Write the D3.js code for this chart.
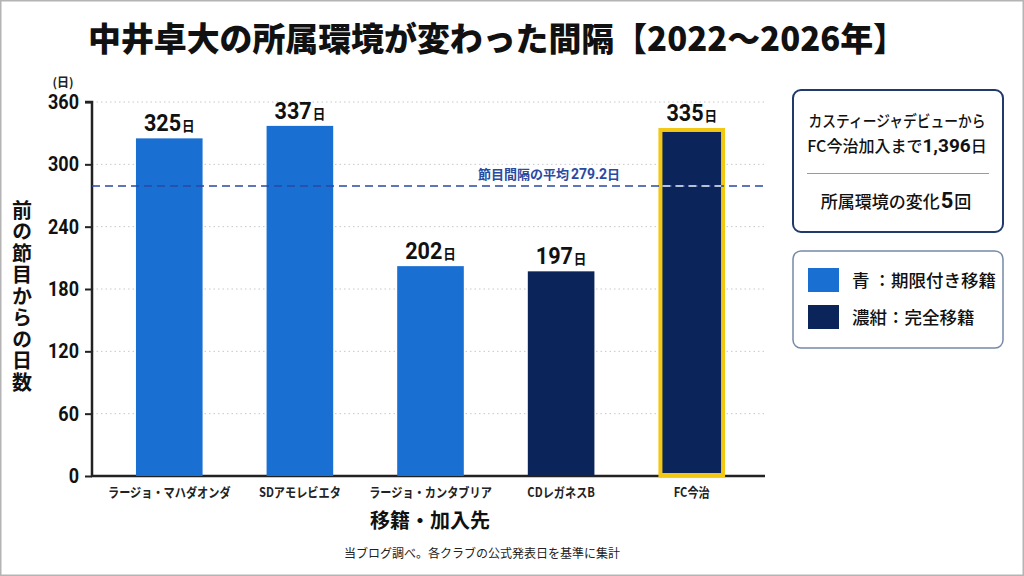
<!DOCTYPE html>
<html><head><meta charset="utf-8">
<script src="https://cdn.jsdelivr.net/npm/d3@7"></script>
<style>
html,body{margin:0;padding:0;background:#fff;}
svg{display:block;}
text{font-family:"Noto Sans CJK JP","Noto Sans",sans-serif;}
</style></head><body>
<svg id="c" width="1024" height="576"></svg>
<script>
const categories = ["ラージョ・マハダオンダ","SDアモレビエタ","ラージョ・カンタブリア","CDレガネスB","FC今治"];
const days = [325, 337, 202, 197, 335];
const transferType = ["loan","loan","loan","permanent","permanent"];
const yTicks = [0, 60, 120, 180, 240, 300, 360];
const averageDays = 279.2;
const totalDays = "1,396";
const changeCount = 5;
const legendItems = [{type:"loan", label:"青 ：期限付き移籍"}, {type:"permanent", label:"濃紺：完全移籍"}];

const colors = {loan:"#1a6fd2", permanent:"#0b2459"};
const NUM = "Roboto,'Liberation Sans',sans-serif";
const svg = d3.select("#c");
const W = 1024, H = 576;

// frame
svg.append("rect").attr("x",0.75).attr("y",0.75).attr("width",W-1.5).attr("height",H-1.5)
  .attr("fill","#fff").attr("stroke","#b4b4b4").attr("stroke-width",1.5);

// title
svg.append("text").attr("x",497).attr("y",51).attr("text-anchor","middle")
  .attr("font-size",33).attr("font-weight",900).attr("fill","#111")
  .attr("textLength",818).attr("lengthAdjust","spacingAndGlyphs")
  .text("中井卓大の所属環境が変わった間隔【2022～2026年】");

const m = {left:92, right:765, top:102, bottom:476};
const x = d3.scaleBand().domain(categories).range([102, 759]).paddingInner(0.49).paddingOuter(0.26);
const y = d3.scaleLinear().domain([0, 360]).range([m.bottom, m.top]);

// grid
svg.append("g").selectAll("line").data(yTicks.filter(t=>t>0)).join("line")
  .attr("x1", m.left).attr("x2", m.right).attr("y1", d=>y(d)).attr("y2", d=>y(d))
  .attr("stroke","#c8c8c8").attr("stroke-width",1).attr("stroke-dasharray","1.5,3");

// y axis
const yAxis = svg.append("g").attr("transform",`translate(${m.left},0)`)
  .call(d3.axisLeft(y).tickValues(yTicks).tickSize(7).tickPadding(5));
yAxis.select(".domain").attr("stroke","#222").attr("stroke-width",2.5).attr("d",`M-7,${m.top}H0V${m.bottom}`);
yAxis.selectAll(".tick line").attr("stroke","#222").attr("stroke-width",2);
yAxis.selectAll(".tick text").attr("font-size",20).attr("font-weight",700)
  .attr("fill","#111").style("font-family",NUM)
  .attr("transform","scale(0.9,1)").attr("x",-13/0.9);

// x axis baseline
svg.append("line").attr("x1",m.left-1).attr("x2",m.right).attr("y1",m.bottom).attr("y2",m.bottom)
  .attr("stroke","#222").attr("stroke-width",2.5);

// (日)
svg.append("text").attr("x",63).attr("y",87).attr("text-anchor","middle")
  .attr("font-size",12).attr("font-weight",700).attr("fill","#222").text("(日)");

// y title vertical
svg.append("text").attr("x",22).attr("y",200)
  .style("writing-mode","vertical-rl").style("text-orientation","upright")
  .attr("letter-spacing",1.5)
  .attr("font-size",20).attr("font-weight",700).attr("fill","#111").text("前の節目からの日数");

// bars
const data = categories.map((c,i)=>({cat:c, v:days[i], type:transferType[i], last:i===categories.length-1}));
svg.append("g").selectAll("rect").data(data).join("rect")
  .attr("x", d=>x(d.cat) + (d.last?2:0)).attr("width", d=>x.bandwidth() - (d.last?4:0))
  .attr("y", d=>y(d.v) + (d.last?2:0)).attr("height", d=>m.bottom - y(d.v) - (d.last?3:0))
  .attr("fill", d=>colors[d.type])
  .attr("stroke", d=>d.last?"#f2c813":"none").attr("stroke-width", d=>d.last?4:0);

// average line
svg.append("line").attr("x1",m.left).attr("x2",m.right).attr("y1",y(averageDays)).attr("y2",y(averageDays))
  .attr("stroke","#2a4aa2").attr("stroke-width",1.6).attr("stroke-dasharray","8,5");
const last = data[data.length-1];
svg.append("line").attr("x1",x(last.cat)+4).attr("x2",x(last.cat)+x.bandwidth()-4)
  .attr("y1",y(averageDays)).attr("y2",y(averageDays))
  .attr("stroke","#e8ecf5").attr("stroke-width",1.4).attr("stroke-dasharray","8,5");
const avgT = svg.append("text").attr("x",549).attr("y",y(averageDays)-7).attr("text-anchor","middle")
  .attr("font-size",13).attr("font-weight",700).attr("fill","#2a4aa2");
avgT.append("tspan").text("節目間隔の平均");
avgT.append("tspan").style("font-family",NUM).attr("font-size",14).attr("dx",2).text(averageDays);
avgT.append("tspan").text("日");

// value labels
const vl = svg.append("g").selectAll("text").data(data).join("text")
  .attr("transform", d=>`translate(${x(d.cat)+x.bandwidth()/2},${y(d.v)-7}) scale(0.9,1)`)
  .attr("text-anchor","middle").attr("fill","#111").attr("font-weight",700);
vl.append("tspan").style("font-family",NUM).attr("font-size",24).text(d=>d.v);
vl.append("tspan").attr("font-size",14).attr("dx",1).text("日");

// x tick labels
svg.append("g").selectAll("text").data(categories).join("text")
  .attr("transform", d=>`translate(${x(d)+x.bandwidth()/2},497) scale(0.86,1)`)
  .attr("text-anchor","middle")
  .attr("font-size",13).attr("font-weight",700).attr("fill","#222").text(d=>d);

// x title
svg.append("text").attr("x",430).attr("y",528).attr("text-anchor","middle")
  .attr("font-size",20).attr("font-weight",700).attr("fill","#111").text("移籍・加入先");

// footer
svg.append("text").attr("x",482).attr("y",558).attr("text-anchor","middle")
  .attr("font-size",12).attr("fill","#222").text("当ブログ調べ。各クラブの公式発表日を基準に集計");

// info panel
svg.append("rect").attr("x",793).attr("y",90).attr("width",210).attr("height",142).attr("rx",8)
  .attr("fill","#fff").attr("stroke","#1f3a6b").attr("stroke-width",2);
svg.append("text").attr("x",897).attr("y",127).attr("text-anchor","middle")
  .attr("font-size",16).attr("font-weight",500).attr("fill","#111")
  .attr("textLength",177).attr("lengthAdjust","spacingAndGlyphs").text("カスティージャデビューから");
const t2 = svg.append("text").attr("x",897).attr("y",152).attr("text-anchor","middle")
  .attr("font-size",16).attr("font-weight",500).attr("fill","#111");
t2.append("tspan").text("FC今治加入まで");
t2.append("tspan").style("font-family",NUM).attr("font-size",19).attr("font-weight",700).text(totalDays);
t2.append("tspan").text("日");
svg.append("line").attr("x1",807).attr("x2",989).attr("y1",173.5).attr("y2",173.5)
  .attr("stroke","#8d9bb5").attr("stroke-width",1.2);
const t3 = svg.append("text").attr("x",896).attr("y",208).attr("text-anchor","middle")
  .attr("font-size",17).attr("font-weight",500).attr("fill","#111");
t3.append("tspan").text("所属環境の変化");
t3.append("tspan").style("font-family",NUM).attr("font-size",22).attr("font-weight",700).attr("dx",1).text(changeCount);
t3.append("tspan").attr("dx",1).text("回");

// legend panel
svg.append("rect").attr("x",793).attr("y",251).attr("width",210).attr("height",97).attr("rx",8)
  .attr("fill","#fff").attr("stroke","#7689a8").attr("stroke-width",1.5);
const lg = svg.append("g").selectAll("g").data(legendItems).join("g")
  .attr("transform",(d,i)=>`translate(808,${268 + i*37})`);
lg.append("rect").attr("width",31).attr("height",24).attr("fill",d=>colors[d.type]);
lg.append("text").attr("x",44).attr("y",19).attr("font-size",17.5).attr("font-weight",500)
  .attr("fill","#111").text(d=>d.label);
</script>
</body></html>
